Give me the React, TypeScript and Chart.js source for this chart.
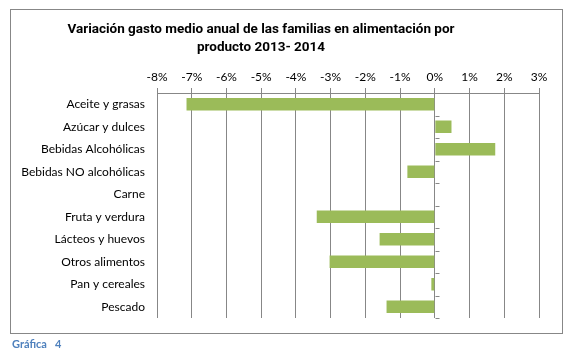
import React, { useEffect, useRef } from 'react';
import { Chart, registerables } from 'chart.js';

Chart.register(...registerables);

const categories = [
  'Aceite y grasas',
  'Azúcar y dulces',
  'Bebidas Alcohólicas',
  'Bebidas NO alcohólicas',
  'Carne',
  'Fruta y verdura',
  'Lácteos y huevos',
  'Otros alimentos',
  'Pan y cereales',
  'Pescado',
];
const values = [-7.15, 0.48, 1.74, -0.79, 0, -3.4, -1.59, -3.03, -0.1, -1.39];
const axisMin = -8;
const axisMax = 3;
const axisStep = 1;
const titleLines = [
  'Variación gasto medio anual de las familias en alimentación por',
  'producto 2013- 2014',
];
const footerLabel = 'Gráfica';
const footerNumber = '4';

const FONT = 'Lato, "Open Sans", sans-serif';
const TITLE_FONT = 'Roboto, Lato, sans-serif';
const GRID = '#878787';
const BAR = '#9BBB59';

const zeroTicks = {
  id: 'zeroTicks',
  afterDatasetsDraw(chart: any) {
    const x = chart.scales.x;
    const y = chart.scales.y;
    const ctx = chart.ctx;
    const x0 = Math.round(x.getPixelForValue(0)) + 0.5;
    const n = categories.length;
    const half = (y.getPixelForValue(1) - y.getPixelForValue(0)) / 2;
    ctx.save();
    ctx.strokeStyle = GRID;
    ctx.lineWidth = 1;
    ctx.beginPath();
    for (let i = 0; i <= n; i++) {
      const py = Math.round(y.getPixelForValue(i) - half) + 0.5;
      ctx.moveTo(x0, py);
      ctx.lineTo(x0 + 4, py);
    }
    ctx.stroke();
    ctx.restore();
  },
};

export default function App() {
  const ref = useRef<HTMLCanvasElement | null>(null);
  useEffect(() => {
    if (!ref.current) return;
    const chart = new Chart(ref.current, {
      type: 'bar',
      data: {
        labels: categories,
        datasets: [
          {
            data: values,
            backgroundColor: BAR,
            borderWidth: 0,
            categoryPercentage: 1,
            barPercentage: 0.556,
          },
        ],
      },
      options: {
        indexAxis: 'y',
        responsive: false,
        animation: false,
        devicePixelRatio: 1,
        layout: { padding: { left: 0, right: 34, top: 53, bottom: 39 } },
        plugins: {
          legend: { display: false },
          title: { display: false },
          tooltip: { enabled: false },
        },
        scales: {
          x: {
            position: 'top',
            min: axisMin,
            max: axisMax,
            ticks: {
              stepSize: axisStep,
              callback: (v: any) => v + '%',
              font: { family: FONT, size: 12 },
              color: '#000',
              padding: 4,
              maxRotation: 0,
            },
            grid: { color: GRID, tickLength: 5, drawTicks: true },
            border: { display: true, color: GRID },
            afterFit: (s: any) => {
              s.height = 40;
            },
          },
          y: {
            ticks: {
              font: { family: FONT, size: 12 },
              color: '#000',
              padding: 4,
              autoSkip: false,
            },
            grid: { display: false },
            border: { display: false },
            afterFit: (s: any) => {
              s.width = 157;
            },
          },
        },
      },
      plugins: [zeroTicks],
    } as any);
    return () => chart.destroy();
  }, []);

  return (
    <div style={{ position: 'absolute', left: 0, top: 0, width: 573, height: 357, background: '#fff' }}>
      <div
        style={{
          position: 'absolute',
          left: 10,
          top: 9,
          width: 553,
          height: 325,
          boxSizing: 'border-box',
          border: '1px solid ' + GRID,
        }}
      />
      <canvas ref={ref} width={573} height={357} style={{ position: 'absolute', left: 0, top: 0 }} />
      <div
        style={{
          position: 'absolute',
          left: 0,
          top: 20,
          width: 522,
          textAlign: 'center',
          fontFamily: TITLE_FONT,
          fontWeight: 700,
          fontSize: 13.5,
          lineHeight: '17.5px',
          color: '#000',
        }}
      >
        {titleLines.map((t) => (
          <div key={t}>{t}</div>
        ))}
      </div>
      <div
        style={{
          position: 'absolute',
          left: 12,
          top: 337,
          fontFamily: FONT,
          fontWeight: 'bold',
          fontSize: 11,
          lineHeight: '14px',
          color: '#4F81BD',
          whiteSpace: 'pre',
        }}
      >
        {footerLabel + '   ' + footerNumber}
      </div>
    </div>
  );
}
